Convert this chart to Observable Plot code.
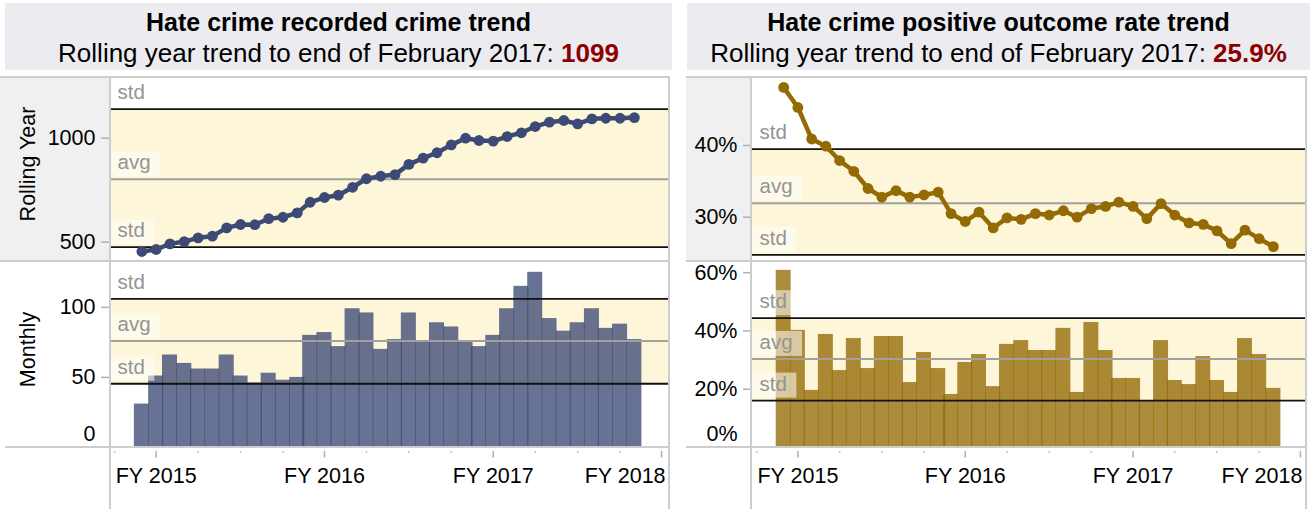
<!DOCTYPE html>
<html>
<head>
<meta charset="utf-8">
<script src="https://cdn.jsdelivr.net/npm/d3@7"></script>
<script src="https://cdn.jsdelivr.net/npm/@observablehq/plot@0.6"></script>
<style>
  html,body{margin:0;padding:0;background:#fff;}
  #root{position:relative;width:1314px;height:509px;overflow:hidden;font-family:"Liberation Sans",Arial,Helvetica,sans-serif;}
  .hdr{position:absolute;top:3px;height:67px;background:#ececf0;color:#000;text-align:center;white-space:nowrap;}
  .hdr .t{position:absolute;left:0;right:0;top:4px;line-height:31px;font-size:25px;font-weight:bold;}
  .hdr .s{position:absolute;left:0;right:0;top:34.5px;line-height:31px;font-size:26px;}
  .hdr .s b{color:#8b0000;}
  .bg{position:absolute;background:#f0f0f0;}
  .hl{position:absolute;height:2px;background:#cdcdcd;}
  .vl{position:absolute;width:2px;background:#cdcdcd;}
  .chart{position:absolute;}
  .chart svg{overflow:visible;display:block;}
</style>
</head>
<body>
<div id="root"></div>
<script>
const FONT = "'Liberation Sans', Arial, Helvetica, sans-serif";

// ---- data ----
const months = ["2014-03","2014-04","2014-05","2014-06","2014-07","2014-08","2014-09","2014-10","2014-11","2014-12",
  "2015-01","2015-02","2015-03","2015-04","2015-05","2015-06","2015-07","2015-08","2015-09","2015-10","2015-11","2015-12",
  "2016-01","2016-02","2016-03","2016-04","2016-05","2016-06","2016-07","2016-08","2016-09","2016-10","2016-11","2016-12",
  "2017-01","2017-02"];
const rollingCount = [455,465,492,503,521,529,569,585,584,613,620,641,692,715,726,764,805,817,825,874,904,930,968,1000,989,986,1008,1026,1056,1077,1085,1069,1093,1096,1096,1099];
const monthlyCount = [31,51,66,60,56,56,66,51,46,53,48,50,80,82,72,99,96,70,77,96,76,89,86,75,72,80,99,115,125,92,83,89,99,85,88,77];
const rollingRate = [48.1,45.3,40.9,39.9,37.9,36.4,34.0,32.8,33.7,32.8,33.1,33.5,30.5,29.4,30.7,28.5,29.9,29.7,30.5,30.3,30.9,30.0,31.2,31.5,32.1,31.5,29.8,31.9,30.3,29.2,29.0,28.1,26.3,28.2,27.0,25.9];
const monthlyRate = [60.8,40.2,19.6,38.8,26.4,37.4,27.1,38.1,38.1,22.3,32.6,27.1,18.2,29.2,31.9,20.9,35.4,36.7,33.3,33.3,40.9,18.9,42.9,33.3,23.7,23.7,16.1,36.7,23.0,21.6,31.2,23.0,18.9,37.4,31.9,20.3];

// reference lines: [upper std, avg, lower std]
const countRefsRolling = [1140, 803, 476];
const countRefsMonthly = [106, 76, 45.5];
const rateRefsRolling = [39.5, 31.95, 24.75];
const rateRefsMonthly = [44.4, 30.4, 16.1];
const refNames = ["std", "avg", "std"];

const fyStarts = ["2014-04-01","2015-04-01","2016-04-01","2017-04-01"];
const fyLabels = ["FY 2015","FY 2016","FY 2017","FY 2018"];
const countTicksRolling = [500, 1000];
const countTicksMonthly = [50, 100];
const rateTicksRolling = [30, 40];
const rateTicksMonthly = [20, 40, 60];

const titles = ["Hate crime recorded crime trend", "Hate crime positive outcome rate trend"];
const subtitlePrefix = "Rolling year trend to end of February 2017: ";
const countColor = "#3d4a76";
const rateColor = "#946a05";

// ---- derived ----
const parseMonth = d3.utcParse("%Y-%m");
const parseDay = d3.utcParse("%Y-%m-%d");
const dates = months.map(parseMonth);
const countData = dates.map((d, i) => ({date: d, rolling: rollingCount[i], monthly: monthlyCount[i]}));
const rateData = dates.map((d, i) => ({date: d, rolling: rollingRate[i], monthly: monthlyRate[i]}));
const fyDates = fyStarts.map(parseDay);
const quarterDates = d3.utcMonth.every(3).range(parseDay("2014-01-01"), parseDay("2017-04-02"))
  .filter(d => !fyDates.some(f => +f === +d));

const measureCtx = document.createElement("canvas").getContext("2d");
measureCtx.font = `20.5px ${FONT}`;
const SVGNS = "http://www.w3.org/2000/svg";
const AXIS_FS = 21.5;

function refMarks(refs, xDomain) {
  return [
    Plot.rect([refs], {x1: () => xDomain[0], x2: () => xDomain[1], y1: d => d[2], y2: d => d[0], fill: "#fdf6d8"})
  ];
}
function refRules(refs) {
  return [
    Plot.ruleY([refs[0], refs[2]], {stroke: "#111", strokeWidth: 1.8}),
    Plot.ruleY([refs[1]], {stroke: "#a0a0a0", strokeWidth: 2})
  ];
}
function refLabels(refs) {
  const d = refs.map((v, i) => ({v, t: refNames[i]}));
  return Plot.text(d, {
    y: "v", text: "t", frameAnchor: "left", textAnchor: "start", lineAnchor: "bottom",
    dx: 7, dy: -10, fill: "#939393", fontSize: 20.5,
    render(index, scales, values, dims, context, next) {
      const g = next(index, scales, values, dims, context);
      const wrap = document.createElementNS(SVGNS, "g");
      for (const i of index) {
        const py = values.y[i];
        const w = measureCtx.measureText(d[i].t).width;
        const r = document.createElementNS(SVGNS, "rect");
        r.setAttribute("x", dims.marginLeft);
        r.setAttribute("y", py - 27.5);
        r.setAttribute("width", w + 17);
        r.setAttribute("height", 25);
        r.setAttribute("fill", "#fff");
        r.setAttribute("fill-opacity", 0.55);
        wrap.appendChild(r);
      }
      wrap.appendChild(g);
      return wrap;
    }
  });
}
function yLabelMark(label) {
  return Plot.text([label], {
    text: d => d, frameAnchor: "left", rotate: -90, textAnchor: "middle", lineAnchor: "top",
    dx: -91, dy: -5.5, fontSize: AXIS_FS, fill: "#000"
  });
}

function makeChart(o) {
  const marks = [...refMarks(o.refs, o.xDomain)];
  if (o.kind === "bar") {
    marks.push(Plot.rect(o.data, {
      x1: d => d3.utcDay.offset(d.date, -15), x2: d => d3.utcDay.offset(d.date, 15),
      y1: () => 0, y2: "monthly", fill: o.color, fillOpacity: 0.78, insetLeft: -0.6, insetRight: -0.6
    }));
    marks.push(...refRules(o.refs));
    marks.push(refLabels(o.refs));
  } else {
    marks.push(...refRules(o.refs));
    marks.push(refLabels(o.refs));
    marks.push(Plot.line(o.data, {x: "date", y: "rolling", stroke: o.color, strokeWidth: 4.5, curve: "linear"}));
    marks.push(Plot.dot(o.data, {x: "date", y: "rolling", r: 5.4, fill: o.color, stroke: "none"}));
  }
  // y ticks (marks) and tick labels (text)
  marks.push(Plot.axisY({ticks: o.yTicks, tickFormat: () => "", tickSize: 9, tickPadding: 0,
    stroke: "#b0b0b0", strokeWidth: 1.5, label: null}));
  marks.push(Plot.text(o.yTicks, {y: d => d, text: o.yFormat, frameAnchor: "left", textAnchor: "end",
    dx: -15, fill: "#000", fontSize: AXIS_FS}));
  if (o.zeroTick) {
    marks.push(Plot.text([0], {y: d => d, text: o.yFormat, frameAnchor: "left", textAnchor: "end",
      dx: -15, dy: -13.5, fill: "#000", fontSize: AXIS_FS}));
  }
  if (o.yLabel) marks.push(yLabelMark(o.yLabel));
  if (o.xAxis) {
    marks.push(Plot.axisX({ticks: fyDates, tickSize: 6.5, dy: 4, tickFormat: () => "", stroke: "#b0b0b0", strokeWidth: 1.5, label: null}));
    marks.push(Plot.axisX({ticks: quarterDates, tickSize: 1.5, dy: 4, tickFormat: () => "", stroke: "#b0b0b0", strokeWidth: 1.5, label: null}));
    marks.push(Plot.text(fyDates.slice(0, 3), {x: d => d, text: (d, i) => fyLabels[i], frameAnchor: "bottom",
      lineAnchor: "top", textAnchor: "middle", dy: 20, fill: "#000", fontSize: AXIS_FS}));
    marks.push(Plot.text(fyDates.slice(3), {x: d => d, text: () => fyLabels[3], frameAnchor: "bottom",
      lineAnchor: "top", textAnchor: "end", dx: o.lastDx, dy: 20, fill: "#000", fontSize: AXIS_FS}));
  }
  const xScale = {type: "utc", domain: o.xDomain};
  if (!o.xAxis) xScale.axis = null;
  return Plot.plot({
    width: o.width, height: o.height,
    marginLeft: o.marginLeft, marginRight: 1, marginTop: 0, marginBottom: o.marginBottom,
    x: xScale,
    y: {domain: o.yDomain},
    style: {fontFamily: FONT, fontSize: AXIS_FS + "px", background: "transparent", color: "#000", overflow: "visible"},
    marks
  });
}

// ---- layout ----
const root = document.getElementById("root");
function el(cls, css, html) {
  const e = document.createElement("div");
  e.className = cls;
  Object.assign(e.style, css);
  if (html != null) e.innerHTML = html;
  root.appendChild(e);
  return e;
}
function place(node, left, top) {
  const c = el("chart", {left: left + "px", top: top + "px"});
  c.appendChild(node);
}

const xDomainLeft = [parseDay("2013-12-23"), parseDay("2017-04-16")];
const xDomainRight = [parseDay("2013-12-23"), parseDay("2017-04-12")];

// headers
const lastCount = rollingCount[rollingCount.length - 1];
const lastRate = rollingRate[rollingRate.length - 1];
el("hdr", {left: "5px", width: "667px"},
  `<div class="t">${titles[0]}</div><div class="s">${subtitlePrefix}<b>${lastCount}</b></div>`);
el("hdr", {left: "687px", width: "623px"},
  `<div class="t">${titles[1]}</div><div class="s">${subtitlePrefix}<b>${lastRate.toFixed(1)}%</b></div>`);

// row header backgrounds
el("bg", {left: "0px", top: "77px", width: "110px", height: "184px"});
el("bg", {left: "686px", top: "77px", width: "65px", height: "184px"});

// charts
place(makeChart({data: countData, kind: "line", color: countColor, refs: countRefsRolling,
  xDomain: xDomainLeft, yDomain: [412, 1287], yTicks: countTicksRolling, yFormat: d => String(d),
  width: 669, height: 182, marginLeft: 110, marginBottom: 0, yLabel: "Rolling Year"}), 0, 78);
place(makeChart({data: countData, kind: "bar", color: countColor, refs: countRefsMonthly,
  xDomain: xDomainLeft, yDomain: [0, 132], yTicks: countTicksMonthly, yFormat: d => String(d), zeroTick: true,
  width: 669, height: 247, marginLeft: 110, marginBottom: 62, yLabel: "Monthly", xAxis: true, lastDx: 4}), 0, 262);
place(makeChart({data: rateData, kind: "line", color: rateColor, refs: rateRefsRolling,
  xDomain: xDomainRight, yDomain: [23.96, 49.34], yTicks: rateTicksRolling, yFormat: d => d + "%",
  width: 620, height: 182, marginLeft: 66, marginBottom: 0}), 686, 78);
place(makeChart({data: rateData, kind: "bar", color: rateColor, refs: rateRefsMonthly,
  xDomain: xDomainRight, yDomain: [0, 63.5], yTicks: rateTicksMonthly, yFormat: d => d + "%", zeroTick: true,
  width: 620, height: 247, marginLeft: 66, marginBottom: 62, xAxis: true, lastDx: 2}), 686, 262);

// grid lines / borders
el("hl", {left: "0px", top: "76px", width: "670px"});
el("hl", {left: "0px", top: "260px", width: "670px"});
el("hl", {left: "5px", top: "446px", width: "665px"});
el("vl", {left: "109px", top: "76px", height: "433px"});
el("vl", {left: "668px", top: "76px", height: "433px"});
el("hl", {left: "686px", top: "76px", width: "621px"});
el("hl", {left: "686px", top: "260px", width: "621px"});
el("hl", {left: "686px", top: "446px", width: "621px"});
el("vl", {left: "750px", top: "76px", height: "433px"});
el("vl", {left: "1305px", top: "76px", height: "433px"});
</script>
</body>
</html>
